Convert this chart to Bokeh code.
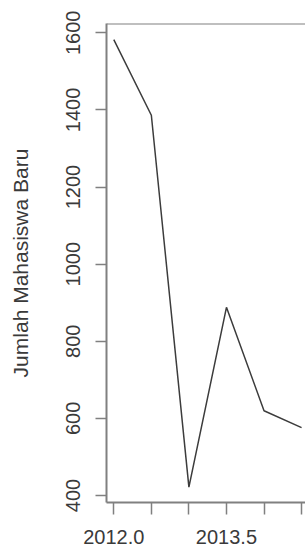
from bokeh.plotting import figure
from bokeh.models import Range1d, FixedTicker, Span, ColumnDataSource
from bokeh.embed import file_html
from bokeh.resources import INLINE

# data (semester, new students)
periode = [2012.0, 2012.5, 2013.0, 2013.5, 2014.0, 2014.5]
mahasiswa_baru = [1582, 1386, 422, 888, 620, 576]

x_ticks = [2012.0, 2012.5, 2013.0, 2013.5, 2014.0, 2014.5]
x_tick_labels = ["2012.0", "", "", "2013.5", "", ""]
y_ticks = [400, 600, 800, 1000, 1200, 1400, 1600]
y_label = "Jumlah Mahasiswa Baru"

FONT = "Liberation Sans"
TEXT = "#3a3a3a"
BOX = "#808080"

p = figure(width=305, height=555, output_backend="svg", toolbar_location=None,
           x_range=Range1d(2011.903, 2014.446 + 8 / 75.3), y_range=Range1d(382, 1624),
           min_border_left=106, min_border_top=23, min_border_right=0,
           min_border_bottom=53)
p.outline_line_color = None
p.grid.visible = False
p.background_fill_color = "white"
p.border_fill_color = "white"

src = ColumnDataSource(dict(x=periode, y=mahasiswa_baru))
p.line("x", "y", source=src, line_color="#3c3c3c", line_width=1.5)

# top edge of the box
p.add_layout(Span(location=1624, dimension="width", line_color=BOX, line_width=2))

xa = p.xaxis[0]
xa.ticker = FixedTicker(ticks=x_ticks)
xa.major_label_overrides = {t: l for t, l in zip(x_ticks, x_tick_labels)}
xa.minor_tick_line_color = None
xa.major_tick_in = 0
xa.major_tick_out = 12
xa.major_label_standoff = 15
xa.axis_line_color = BOX
xa.axis_line_width = 2
xa.major_tick_line_color = BOX
xa.major_tick_line_width = 1.5
xa.major_label_text_font = FONT
xa.major_label_text_font_size = "20px"
xa.major_label_text_color = TEXT

ya = p.yaxis[0]
ya.ticker = FixedTicker(ticks=y_ticks)
ya.minor_tick_line_color = None
ya.major_tick_in = 0
ya.major_tick_out = 11
ya.major_label_standoff = 15
ya.major_label_orientation = "vertical"
ya.axis_line_color = BOX
ya.axis_line_width = 2
ya.major_tick_line_color = BOX
ya.major_tick_line_width = 1.5
ya.major_label_text_font = FONT
ya.major_label_text_font_size = "20px"
ya.major_label_text_color = TEXT
ya.axis_label = y_label
ya.axis_label_text_font = FONT
ya.axis_label_text_font_size = "21px"
ya.axis_label_text_font_style = "normal"
ya.axis_label_text_color = TEXT
ya.axis_label_standoff = 32

open("out.html", "w").write(file_html(p, INLINE))
